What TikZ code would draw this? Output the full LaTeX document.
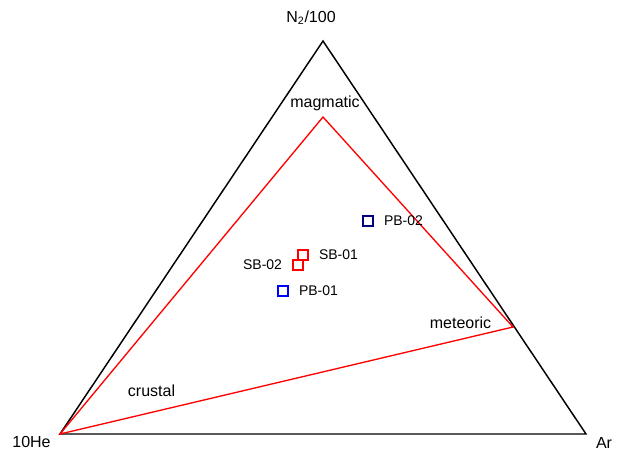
\documentclass[tikz,border=0pt]{standalone}
\usepackage{fontspec}
\setmainfont{Liberation Sans}
\usetikzlibrary{positioning}
\definecolor{navy}{RGB}{0,0,128}
\tikzset{
    edge/.style={line width=1.1pt, black},
    field/.style={line width=1pt, red},
    sample/.style={rectangle, draw, line width=1.1pt, minimum size=7.5pt, inner sep=0pt},
    tag/.style={font=\fontsize{10.5}{12}\selectfont, inner sep=0pt},
    region/.style={font=\fontsize{12}{14}\selectfont, inner sep=0pt},
}

\begin{document}
\begin{tikzpicture}
        [x=0.75pt, y=-0.75pt, node distance=7.5pt]
        \useasboundingbox (0,0) rectangle (620,450);

        % corners of the ternary plot
        \coordinate (he) at (60,434);
        \coordinate (ar) at (586,434);
        \coordinate (n2) at (323,41);
        \coordinate (magma) at (323,117);
        \coordinate (meteo) at (513,327);

        \node[region] (helab) at (31.5,442) {10He};
        \node[region] (arlab) at (604,443) {Ar};
        \node[region] (n2lab) at (311,18) {N\textsubscript{2}/100};

        \draw[edge] (he) -- (n2) -- (ar) -- cycle;
        \draw[field] (he) -- (magma) -- (meteo) -- cycle;

        \node[region] (magmatic) at (325,103) {magmatic};
        \node[region] (meteoric) at (460.5,323) {meteoric};
        \node[region] (crustal) at (151.5,391) {crustal};

        % samples
        \node[sample, navy] (pb02) at (368,221) {};
        \node[sample, red] (sb01) at (303,255) {};
        \node[sample, red] (sb02) at (298,265) {};
        \node[sample, blue] (pb01) at (283,291) {};

        \node[tag, right=of pb02] (pb02lab) {PB-02};
        \node[tag, right=of sb01] (sb01lab) {SB-01};
        \node[tag, left=of sb02] (sb02lab) {SB-02};
        \node[tag, right=of pb01] (pb01lab) {PB-01};

    \end{tikzpicture}
\end{document}
